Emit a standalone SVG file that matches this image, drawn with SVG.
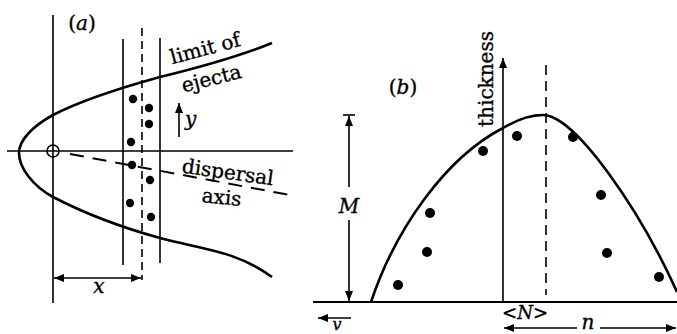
<svg xmlns="http://www.w3.org/2000/svg" width="677" height="334" viewBox="0 0 677 334">
<style>
.ln{stroke:#000;stroke-width:1.6;fill:none}
.th{stroke:#000;stroke-width:2.6;fill:none}
.dt{fill:#000}
text{font-family:"DejaVu Serif","Liberation Serif",serif;font-size:20px;fill:#000;stroke:#000;stroke-width:0.35}
.it{font-style:italic}
</style>
<defs>
<marker id="ah" viewBox="0 0 10 8" refX="10" refY="4" markerWidth="10" markerHeight="8" markerUnits="userSpaceOnUse" orient="auto-start-reverse">
<path d="M0,0 L10,4 L0,8 Z" fill="#000"/>
</marker>
</defs>
<rect width="677" height="334" fill="#fff"/>
<g id="panel-a">
<line class="ln" x1="53" y1="15" x2="53" y2="303"/>
<line class="ln" x1="7" y1="151" x2="293" y2="151"/>
<circle class="ln" cx="53" cy="151" r="6"/>
<line class="ln" x1="123" y1="39" x2="123" y2="265"/>
<line class="ln" x1="160" y1="38" x2="160" y2="263"/>
<line class="ln" x1="142" y1="28" x2="142" y2="280" stroke-dasharray="8 5"/>
<line x1="70" y1="154" x2="295" y2="196" stroke="#000" stroke-width="2" stroke-dasharray="14 9"/>
<path class="th" d="M272,43 C240,56 205,66 160,77 C120,88 80,101 53,115 C33,126 19,140 19,153 C19,168 33,186 53,197 C80,211 120,227 160,238 C200,249 235,250 272,277"/>
<g class="dt">
<circle cx="133" cy="99" r="4.2"/><circle cx="149" cy="108" r="4.2"/><circle cx="149" cy="124" r="4.2"/><circle cx="131" cy="142" r="4.2"/>
<circle cx="132" cy="165" r="4.2"/><circle cx="150" cy="180" r="4.2"/><circle cx="130" cy="203" r="4.2"/><circle cx="151" cy="217" r="4.2"/>
</g>
<line class="ln" x1="54" y1="278" x2="141" y2="278" marker-start="url(#ah)" marker-end="url(#ah)"/>
<line class="ln" x1="179" y1="137" x2="179" y2="103" marker-end="url(#ah)"/>
<text x="82" y="30" text-anchor="middle">(<tspan class="it">a</tspan>)</text>
<text class="it" x="99" y="293" text-anchor="middle">x</text>
<text class="it" x="185" y="126">y</text>
<text transform="translate(207,55) rotate(-15)" text-anchor="middle">limit of</text>
<text transform="translate(213,85) rotate(-14)" text-anchor="middle">ejecta</text>
<text transform="translate(227,179) rotate(8)" text-anchor="middle">dispersal</text>
<text transform="translate(221,204) rotate(6)" text-anchor="middle">axis</text>
</g>
<g id="panel-b">
<line x1="313" y1="302" x2="677" y2="302" stroke="#000" stroke-width="2"/>
<line class="ln" x1="503" y1="302" x2="503" y2="58" marker-end="url(#ah)"/>
<line class="ln" x1="546" y1="65" x2="546" y2="295" stroke-dasharray="10 6"/>
<path class="th" d="M371,302 C395,230 445,158 503,128 C518,119 530,115 543,115 C575,115 640,210 677,292"/>
<g class="dt">
<circle cx="398" cy="285" r="5"/><circle cx="427" cy="252" r="5"/><circle cx="430" cy="213" r="5"/>
<circle cx="483" cy="151" r="5"/><circle cx="517" cy="136" r="5"/><circle cx="573" cy="137" r="5"/>
<circle cx="601" cy="195" r="5"/><circle cx="607" cy="253" r="5"/><circle cx="659" cy="277" r="5"/>
</g>
<line class="ln" x1="343" y1="115" x2="355" y2="115"/>
<line class="ln" x1="349" y1="187" x2="349" y2="116" marker-end="url(#ah)"/>
<line class="ln" x1="349" y1="220" x2="349" y2="301" marker-end="url(#ah)"/>
<text class="it" x="349" y="213" text-anchor="middle">M</text>
<text x="403" y="94" text-anchor="middle">(<tspan class="it">b</tspan>)</text>
<text transform="translate(493,79) rotate(-90)" text-anchor="middle">thickness</text>
<text x="525" y="319" text-anchor="middle" style="font-size:18px">&lt;<tspan class="it">N</tspan>&gt;</text>
<line class="ln" x1="577" y1="328" x2="504" y2="328" marker-end="url(#ah)"/>
<line class="ln" x1="600" y1="328" x2="676" y2="328" marker-end="url(#ah)"/>
<text class="it" x="588" y="329" text-anchor="middle">n</text>
<line class="ln" x1="351" y1="318" x2="318" y2="318" marker-end="url(#ah)"/>
<text class="it" x="337" y="330" text-anchor="middle" style="font-size:16px">v</text>
</g>
</svg>
